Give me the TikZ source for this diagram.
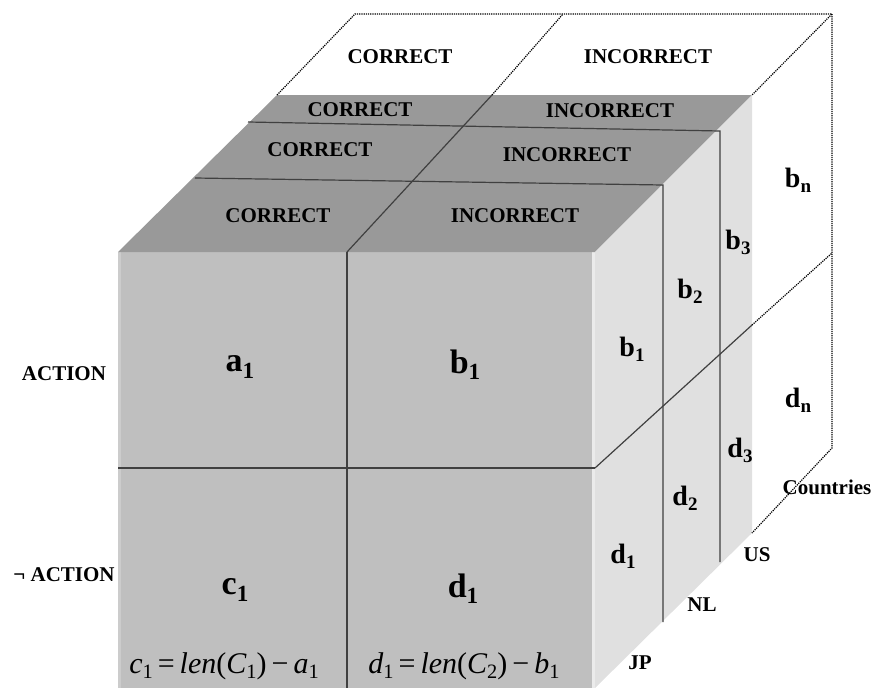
\documentclass[tikz,border=0pt]{standalone}
\usepackage{fontspec}
\setmainfont{Liberation Serif}
\newcommand{\idx}[1]{\raisebox{-0.18em}{\scalebox{0.68}{#1}}}

\begin{document}
\begin{tikzpicture}[
		x=1pt, y=-1pt,
		frontfill/.style={fill=black!25},
		topfill/.style={fill=black!40},
		sidefill/.style={fill=black!12},
		edge/.style={draw=black!75, line width=1.2pt},
		ghost/.style={draw=black, line width=1.2pt, dash pattern=on 1.2pt off 1pt},
		lbl/.style={font=\fontsize{21}{24}\selectfont\bfseries, inner sep=0pt},
		cell/.style={font=\fontsize{34}{34}\selectfont\bfseries, inner sep=0pt},
		sidelbl/.style={font=\fontsize{28}{28}\selectfont\bfseries, inner sep=0pt},
		formula/.style={font=\fontsize{30}{30}\selectfont\itshape, inner sep=0pt}
	]
	\useasboundingbox (0,0) rectangle (874,688);

	% cube faces
	\fill[frontfill] (118,252) rectangle (595,688);
	\fill[black!20] (118,252) rectangle (121,688);
	\fill[black!8] (592,252) rectangle (595,688);
	\fill[topfill] (118,252) -- (595,252) -- (752,95) -- (277,95) -- cycle;
	\fill[sidefill] (595,252) -- (752,95) -- (752,533) -- (595,688) -- cycle;

	% dividers of the front and top
	\draw[edge] (347,252) -- (347,688);
	\draw[edge] (118,468) -- (595,468);
	\draw[edge] (347,252) -- (492,95);

	% slabs for the countries
	\draw[edge] (195,178) -- (663,185) -- (663,622);
	\draw[edge] (248,122) -- (720,131) -- (720,562);
	\draw[edge] (595,468) -- (752,325);

	% dotted slab for the n-th country
	\draw[ghost] (277,95) -- (355,14) -- (832,14) -- (752,95);
	\draw[ghost] (492,95) -- (563,14);
	\draw[ghost] (832,14) -- (832,448) -- (752,533);
	\draw[ghost] (752,325) -- (832,253);

	% top labels
	\node[lbl] (corN) at (400,57) {CORRECT};
	\node[lbl] (incN) at (648,57) {INCORRECT};
	\node[lbl] (corUS) at (360,110) {CORRECT};
	\node[lbl] (incUS) at (610,111) {INCORRECT};
	\node[lbl] (corNL) at (320,150) {CORRECT};
	\node[lbl] (incNL) at (567,155) {INCORRECT};
	\node[lbl] (corJP) at (278,216) {CORRECT};
	\node[lbl] (incJP) at (515,216) {INCORRECT};

	% front cells
	\node[cell] (a1) at (240,367) {a\idx{1}};
	\node[cell] (b1) at (465,365) {b\idx{1}};
	\node[cell] (c1) at (235,590) {c\idx{1}};
	\node[cell] (d1) at (463,589) {d\idx{1}};
	\node[formula] (cform) at (224,666) {c\idx{\upshape 1}\,{\upshape=}\,len{\upshape(}C\idx{\upshape 1}{\upshape)}\,{\upshape −}\,a\idx{\upshape 1}};
	\node[formula] (dform) at (464,666) {d\idx{\upshape 1}\,{\upshape=}\,len{\upshape(}C\idx{\upshape 2}{\upshape)}\,{\upshape −}\,b\idx{\upshape 1}};

	% side cells
	\node[sidelbl] (sb1) at (632,349) {b\idx{1}};
	\node[sidelbl] (sb2) at (690,291) {b\idx{2}};
	\node[sidelbl] (sb3) at (738,242) {b\idx{3}};
	\node[sidelbl] (sbn) at (798,180) {b\idx{n}};
	\node[sidelbl] (sd1) at (623,556) {d\idx{1}};
	\node[sidelbl] (sd2) at (685,498) {d\idx{2}};
	\node[sidelbl] (sd3) at (740,450) {d\idx{3}};
	\node[sidelbl] (sdn) at (798,400) {d\idx{n}};

	% axis labels
	\node[lbl] (countries) at (827,487) {Countries};
	\node[lbl] (us) at (757,555) {US};
	\node[lbl] (nl) at (702,605) {NL};
	\node[lbl] (jp) at (640,663) {JP};
	\node[lbl] (act) at (64,374) {ACTION};
	\node[lbl] (nact) at (64,575) {¬ ACTION};
\end{tikzpicture}
\end{document}
